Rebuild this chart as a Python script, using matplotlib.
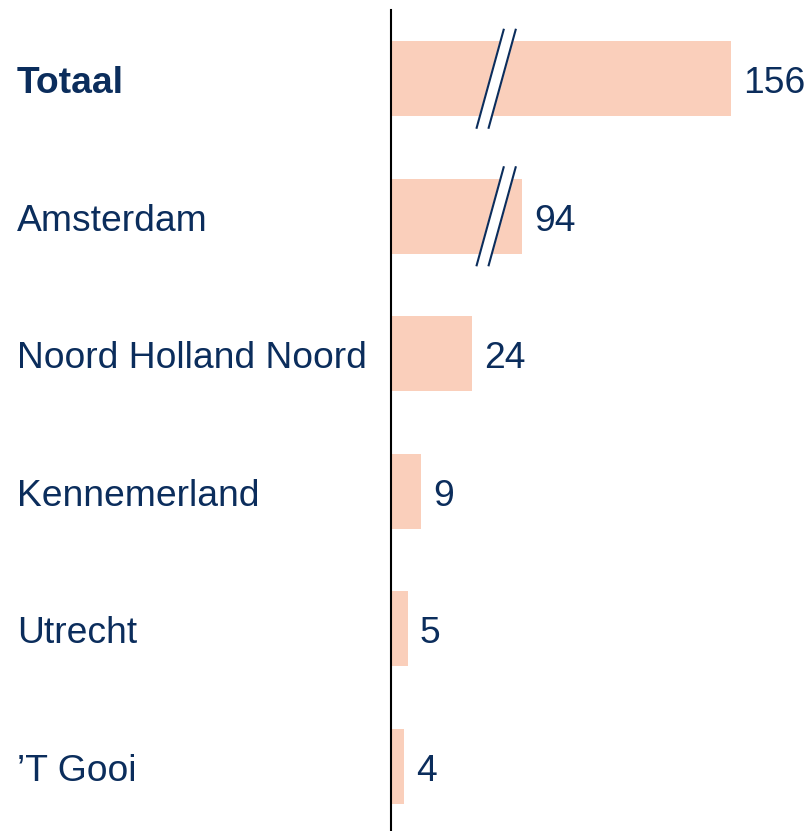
import numpy as np
import matplotlib
matplotlib.use("Agg")
import matplotlib.pyplot as plt
import matplotlib.transforms as mtransforms

regions = ["Totaal", "Amsterdam", "Noord Holland Noord", "Kennemerland", "Utrecht", "\u2019T Gooi"]
counts = [156, 94, 24, 9, 5, 4]

# broken axis: linear up to 30, squeezed between 30 and 94, linear again after
data_knots = [0, 30, 94, 1000]
scale_knots = [0, 30, 38.9, 944.9]

def fwd(x):
    return np.interp(x, data_knots, scale_knots)

def inv(x):
    return np.interp(x, scale_knots, data_knots)

navy = "#0b2d5c"
bar_color = "#facfbb"
plt.rcParams['font.family'] = ['Liberation Sans', 'DejaVu Sans']

fig = plt.figure(figsize=(8.08, 8.31), dpi=100)
ax = fig.add_axes([391 / 808, 0, 1 - 391 / 808, 1 - 10 / 831])
ax.set_xscale('function', functions=(fwd, inv))

y = np.arange(len(regions))
ax.barh(y, counts, height=0.545, color=bar_color)
ax.set_xlim(0, inv(123.7))
ax.set_ylim(5.47, -0.5)

# baseline sits ~14 px under the bar centre
for yi, v in zip(y, counts):
    ax.annotate(str(v), (v, yi), xytext=(8.5, -10.3), textcoords='offset points',
                va='baseline', ha='left', fontsize=26.8, color=navy)

lab_trans = mtransforms.blended_transform_factory(fig.transFigure, ax.transData)
for i, name in enumerate(regions):
    ax.annotate(name, (17 / 808, i), xycoords=lab_trans, xytext=(0, -10.3),
                textcoords='offset points', va='baseline', ha='left',
                fontsize=26.8, color=navy, fontweight='bold' if i == 0 else 'normal')

# break marks on the two long bars
break_at = 38.6
for yi, v in zip(y, counts):
    if v < 90:
        continue
    tr = fig.dpi_scale_trans + mtransforms.ScaledTranslation(break_at, yi, ax.transData)
    x0, x1 = -0.195, 0.075
    y0, y1 = -0.49, 0.49
    gap = 0.12
    ax.fill([x0, x1, x1 + gap, x0 + gap], [y0, y1, y1, y0], color='white',
            transform=tr, zorder=3, clip_on=False)
    for dx in (0, gap):
        ax.plot([x0 + dx, x1 + dx], [y0, y1], color=navy, lw=1.5,
                transform=tr, zorder=4, clip_on=False)

for s in ['top', 'right', 'bottom']:
    ax.spines[s].set_visible(False)
ax.spines['left'].set_color('black')
ax.spines['left'].set_linewidth(1.5)
ax.set_xticks([])
ax.set_yticks([])

fig.savefig("out.png", dpi=100)
